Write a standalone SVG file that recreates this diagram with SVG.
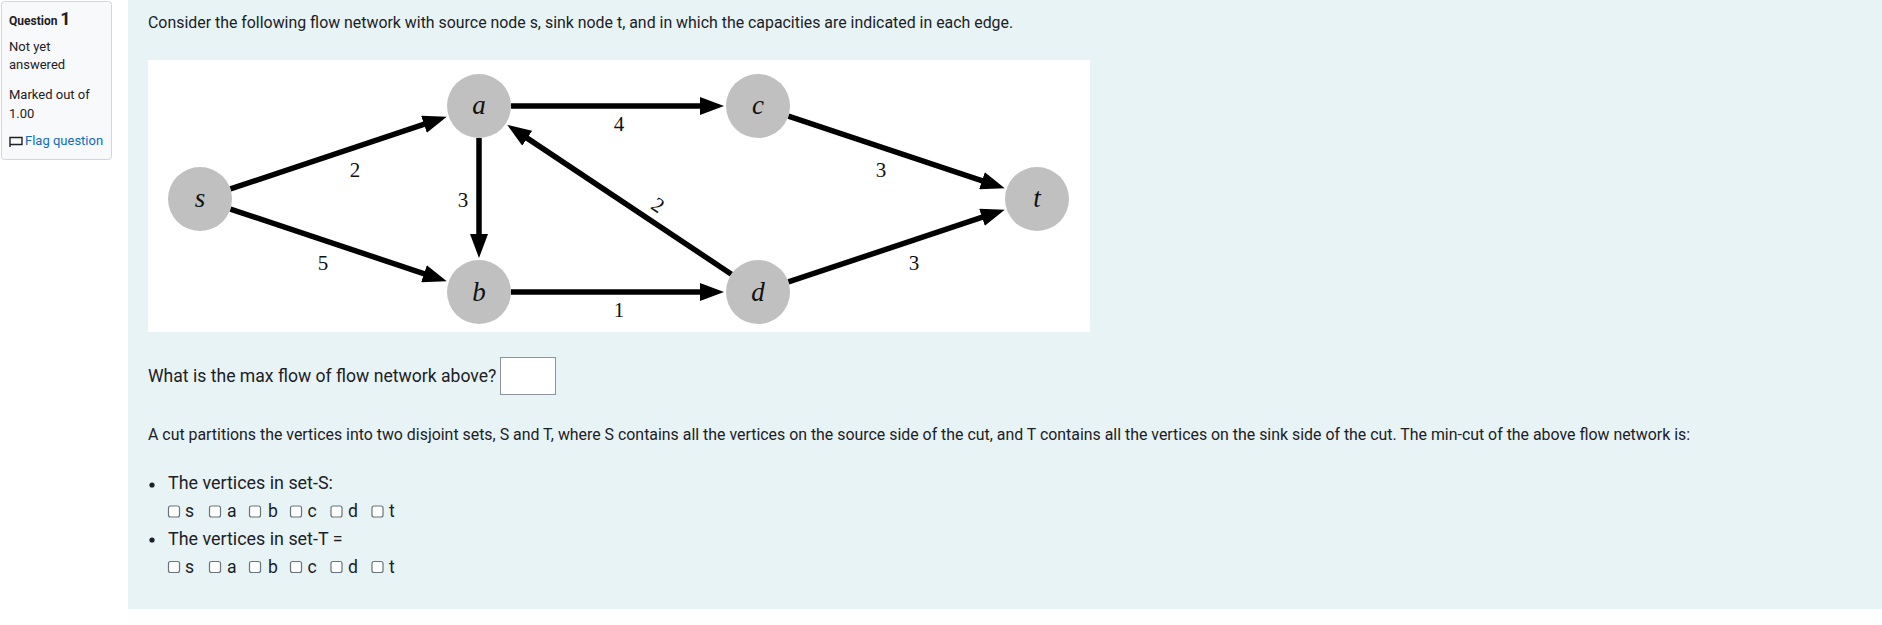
<svg xmlns="http://www.w3.org/2000/svg" width="1882" height="625" viewBox="0 0 1882 625">
<defs>
<style>
.ui{font-family:Roboto,"Liberation Sans",sans-serif;fill:#1d2125}
.side{font-size:13px}
.node circle{fill:#c0c0c0}
.node text{font-family:"Liberation Serif","DejaVu Serif",serif;font-style:italic;font-size:27px;fill:#111;text-anchor:middle}
.edge line{stroke:#000;stroke-width:5.5;marker-end:url(#arr)}
.lbl{font-family:"Liberation Serif","DejaVu Serif",serif;font-size:21px;fill:#111;text-anchor:middle}
.cb{fill:#fff;stroke:#6a737b;stroke-width:1.2}
.opt{font-size:17.6px}
.big{font-size:17.9px}
</style>
<marker id="arr" viewBox="0 0 24 18" markerWidth="24" markerHeight="18" refX="2" refY="9" orient="auto" markerUnits="userSpaceOnUse">
<path d="M0,0 L24,9 L0,18 z" fill="#000"/>
</marker>
</defs>
<rect width="1882" height="625" fill="#fff"/>
<!-- sidebar -->
<g id="info">
<rect x="1.5" y="1.5" width="110" height="158" rx="3" fill="#f8f9fa" stroke="#d0d6dc"/>
<text class="ui" x="9" y="25" font-size="12" font-weight="bold">Question <tspan font-size="18">1</tspan></text>
<text class="ui side" x="9" y="51">Not yet</text>
<text class="ui side" x="9" y="69">answered</text>
<text class="ui side" x="9" y="99">Marked out of</text>
<text class="ui side" x="9" y="118">1.00</text>
<path d="M10,147 V137.5 H22 V144.5 H10.5" fill="none" stroke="#1d2125" stroke-width="1.4"/>
<text class="ui side" x="25" y="145" style="fill:#0f6cbf">Flag question</text>
</g>
<!-- main panel -->
<rect x="128" y="0" width="1754" height="609" fill="#e7f3f5"/>
<text class="ui" x="148" y="28" font-size="15.9">Consider the following flow network with source node s, sink node t, and in which the capacities are indicated in each edge.</text>
<rect x="148" y="60" width="942" height="272" fill="#fff"/>
<g id="connectors" class="edge">
<line x1="230.4" y1="188.9" x2="425.9" y2="123.7"/>
<line x1="230.4" y1="209.1" x2="425.9" y2="274.3"/>
<line x1="511" y1="106" x2="702" y2="106"/>
<line x1="479" y1="138" x2="479" y2="236"/>
<line x1="731.4" y1="274.2" x2="525.6" y2="137.1"/>
<line x1="511" y1="292" x2="702" y2="292"/>
<line x1="788.4" y1="116.1" x2="983.9" y2="181.3"/>
<line x1="788.4" y1="281.9" x2="983.9" y2="216.7"/>
</g>
<g id="edge-labels">
<text class="lbl" x="355" y="177">2</text>
<text class="lbl" x="323" y="270">5</text>
<text class="lbl" x="619" y="131">4</text>
<text class="lbl" x="463" y="207">3</text>
<text class="lbl" x="658" y="212" transform="rotate(33.7 658 205)">2</text>
<text class="lbl" x="619" y="317">1</text>
<text class="lbl" x="881" y="177">3</text>
<text class="lbl" x="914" y="270">3</text>
</g>
<g id="node-s" class="node"><circle cx="200" cy="199" r="32"/><text x="200" y="207">s</text></g>
<g id="node-a" class="node"><circle cx="479" cy="106" r="32"/><text x="479" y="114">a</text></g>
<g id="node-b" class="node"><circle cx="479" cy="292" r="32"/><text x="479" y="301">b</text></g>
<g id="node-c" class="node"><circle cx="758" cy="106" r="32"/><text x="758" y="114">c</text></g>
<g id="node-d" class="node"><circle cx="758" cy="292" r="32"/><text x="758" y="301">d</text></g>
<g id="node-t" class="node"><circle cx="1037" cy="199" r="32"/><text x="1037" y="207">t</text></g>
<!-- question parts -->
<text class="ui" x="148" y="382" font-size="17.6">What is the max flow of flow network above?</text>
<rect x="500.5" y="357.5" width="55" height="37" fill="#fff" stroke="#8f959e" stroke-width="1"/>
<text class="ui" x="148" y="440" font-size="15.9">A cut partitions the vertices into two disjoint sets, S and T, where S contains all the vertices on the source side of the cut, and T contains all the vertices on the sink side of the cut. The min-cut of the above flow network is:</text>
<circle cx="152" cy="485" r="2.6" fill="#1d2125"/>
<text class="ui big" x="168" y="489">The vertices in set-S:</text>
<g id="row-S">
<rect class="cb" x="168.5" y="506" width="11" height="11" rx="2"/><text class="ui opt" x="185" y="517">s</text>
<rect class="cb" x="209.5" y="506" width="11" height="11" rx="2"/><text class="ui opt" x="227" y="517">a</text>
<rect class="cb" x="249.5" y="506" width="11" height="11" rx="2"/><text class="ui opt" x="268" y="517">b</text>
<rect class="cb" x="290.5" y="506" width="11" height="11" rx="2"/><text class="ui opt" x="307.5" y="517">c</text>
<rect class="cb" x="331" y="506" width="11" height="11" rx="2"/><text class="ui opt" x="348" y="517">d</text>
<rect class="cb" x="372" y="506" width="11" height="11" rx="2"/><text class="ui opt" x="389" y="517">t</text>
</g>
<circle cx="152" cy="540" r="2.6" fill="#1d2125"/>
<text class="ui big" x="168" y="545">The vertices in set-T =</text>
<g id="row-T">
<rect class="cb" x="168.5" y="561.5" width="11" height="11" rx="2"/><text class="ui opt" x="185" y="572.5">s</text>
<rect class="cb" x="209.5" y="561.5" width="11" height="11" rx="2"/><text class="ui opt" x="227" y="572.5">a</text>
<rect class="cb" x="249.5" y="561.5" width="11" height="11" rx="2"/><text class="ui opt" x="268" y="572.5">b</text>
<rect class="cb" x="290.5" y="561.5" width="11" height="11" rx="2"/><text class="ui opt" x="307.5" y="572.5">c</text>
<rect class="cb" x="331" y="561.5" width="11" height="11" rx="2"/><text class="ui opt" x="348" y="572.5">d</text>
<rect class="cb" x="372" y="561.5" width="11" height="11" rx="2"/><text class="ui opt" x="389" y="572.5">t</text>
</g>
</svg>
